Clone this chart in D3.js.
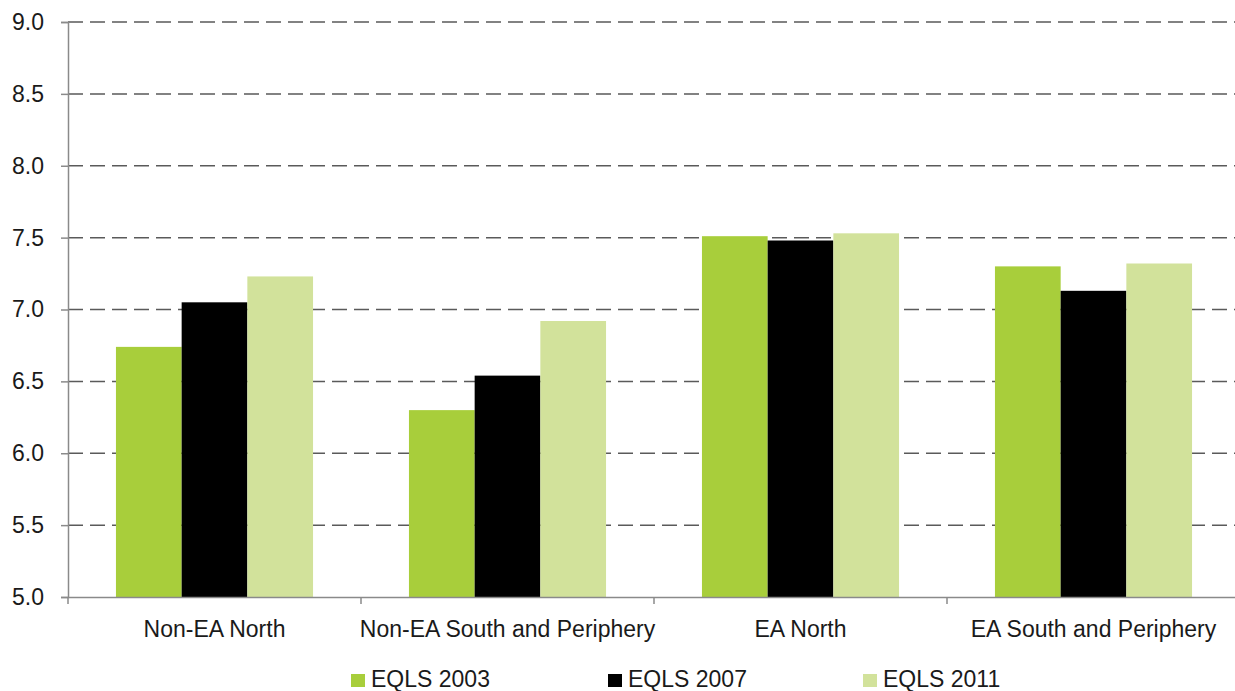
<!DOCTYPE html>
<html>
<head>
<meta charset="utf-8">
<script src="https://cdn.jsdelivr.net/npm/d3@7"></script>
<style>
  body { margin: 0; background: #fff; }
  text { font-family: "Liberation Sans", Arial, sans-serif; fill: #1a1a1a; }
</style>
</head>
<body>
<svg id="chart" width="1235" height="691"></svg>
<script>
const categories = ["Non-EA North", "Non-EA South and Periphery", "EA North", "EA South and Periphery"];
const seriesNames = ["EQLS 2003", "EQLS 2007", "EQLS 2011"];
const eqls2003 = [6.74, 6.30, 7.51, 7.30];
const eqls2007 = [7.05, 6.54, 7.48, 7.13];
const eqls2011 = [7.23, 6.92, 7.53, 7.32];
const yTicks = [5.0, 5.5, 6.0, 6.5, 7.0, 7.5, 8.0, 8.5, 9.0];
const colors = ["#a8ce3b", "#000000", "#d2e29b"];

const series = [eqls2003, eqls2007, eqls2011];
const margin = {left: 68, right: 1240, top: 22, bottom: 597};
const fontSize = 23;

const svg = d3.select("#chart");

const x = d3.scaleBand().domain(categories).range([margin.left, margin.right]).paddingInner(0).paddingOuter(0);
const xInner = d3.scaleBand().domain(seriesNames).range([0, x.bandwidth()]).paddingInner(0).paddingOuter(0.73);
const y = d3.scaleLinear().domain([5, 9]).range([margin.bottom, margin.top]);

// dashed gridlines
svg.append("g")
  .selectAll("line")
  .data(yTicks.filter(d => d > 5))
  .join("line")
    .attr("x1", margin.left)
    .attr("x2", margin.right)
    .attr("y1", d => y(d))
    .attr("y2", d => y(d))
    .attr("stroke", "#5a5a5a")
    .attr("stroke-width", 1.5)
    .attr("stroke-dasharray", "15,7");

// bars
const groups = svg.append("g")
  .selectAll("g")
  .data(categories)
  .join("g")
    .attr("transform", d => `translate(${x(d)},0)`);

groups.selectAll("rect")
  .data((d, i) => series.map((s, j) => ({name: seriesNames[j], value: s[i], color: colors[j]})))
  .join("rect")
    .attr("x", d => xInner(d.name))
    .attr("width", xInner.bandwidth())
    .attr("y", d => y(d.value))
    .attr("height", d => y(5) - y(d.value))
    .attr("fill", d => d.color);

// y axis
const yAxis = svg.append("g")
  .attr("transform", `translate(${margin.left},0)`)
  .call(d3.axisLeft(y).tickValues(yTicks).tickFormat(d3.format(".1f")).tickSize(7).tickPadding(17));
yAxis.selectAll("path, line").attr("stroke", "#8a8a8a").attr("stroke-width", 1.5);
yAxis.selectAll("text").attr("font-size", fontSize).attr("fill", "#1a1a1a").style("font-family", "Liberation Sans, Arial, sans-serif");

// x axis
const xAxis = svg.append("g")
  .attr("transform", `translate(0,${margin.bottom})`)
  .call(d3.axisBottom(x).tickSize(0).tickPadding(24));
xAxis.select("path").attr("stroke", "#8a8a8a").attr("stroke-width", 1.5);
xAxis.selectAll("text").attr("font-size", fontSize).attr("fill", "#1a1a1a").style("font-family", "Liberation Sans, Arial, sans-serif");

// category separator ticks
svg.append("g")
  .selectAll("line")
  .data(d3.range(categories.length + 1))
  .join("line")
    .attr("x1", i => margin.left + i * x.bandwidth())
    .attr("x2", i => margin.left + i * x.bandwidth())
    .attr("y1", margin.bottom)
    .attr("y2", margin.bottom + 7)
    .attr("stroke", "#8a8a8a")
    .attr("stroke-width", 1.5);

// legend
const legendX = [351, 608, 863];
const legend = svg.append("g")
  .selectAll("g")
  .data(seriesNames)
  .join("g")
    .attr("transform", (d, i) => `translate(${legendX[i]},674)`);
legend.append("rect")
  .attr("width", 14).attr("height", 13)
  .attr("fill", (d, i) => colors[i]);
legend.append("text")
  .attr("x", 20).attr("y", 13)
  .attr("font-size", fontSize)
  .text(d => d);
</script>
</body>
</html>
